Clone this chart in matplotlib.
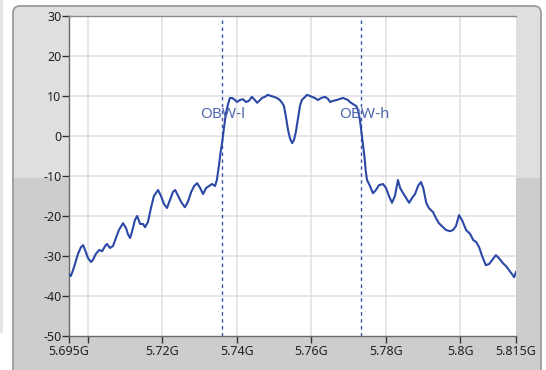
import matplotlib
matplotlib.use("Agg")
import matplotlib.pyplot as plt
from matplotlib.patches import FancyBboxPatch, Rectangle

plt.rcParams["axes.unicode_minus"] = False
plt.rcParams["font.family"] = ["Noto Sans", "DejaVu Sans"]

# ---- data (frequency in GHz, level in dB) ----
freq_ghz = [
    5.6950, 5.6955, 5.6961, 5.6966, 5.6974, 5.6982, 5.6988, 5.6993, 5.7001, 5.7009,
    5.7014, 5.7022, 5.7031, 5.7039, 5.7047, 5.7052, 5.7060, 5.7068, 5.7076, 5.7084,
    5.7095, 5.7103, 5.7108, 5.7114, 5.7119, 5.7127, 5.7133, 5.7141, 5.7149, 5.7154,
    5.7162, 5.7170, 5.7178, 5.7189, 5.7197, 5.7205, 5.7213, 5.7221, 5.7229, 5.7235,
    5.7243, 5.7251, 5.7261, 5.7269, 5.7278, 5.7286, 5.7294, 5.7302, 5.7310, 5.7318,
    5.7326, 5.7334, 5.7342, 5.7347, 5.7353, 5.7357, 5.7361, 5.7366, 5.7371, 5.7377,
    5.7382, 5.7388, 5.7396, 5.7401, 5.7409, 5.7417, 5.7425, 5.7433, 5.7441, 5.7449,
    5.7455, 5.7463, 5.7468, 5.7476, 5.7484, 5.7492, 5.7500, 5.7508, 5.7516, 5.7522,
    5.7527, 5.7532, 5.7538, 5.7543, 5.7549, 5.7554, 5.7559, 5.7565, 5.7570, 5.7575,
    5.7584, 5.7589, 5.7597, 5.7602, 5.7610, 5.7618, 5.7627, 5.7637, 5.7645, 5.7651,
    5.7659, 5.7669, 5.7678, 5.7686, 5.7694, 5.7699, 5.7704, 5.7712, 5.7721, 5.7726,
    5.7731, 5.7735, 5.7739, 5.7743, 5.7747, 5.7750, 5.7758, 5.7766, 5.7774, 5.7782,
    5.7793, 5.7801, 5.7809, 5.7817, 5.7825, 5.7831, 5.7833, 5.7839, 5.7847, 5.7855,
    5.7863, 5.7871, 5.7879, 5.7887, 5.7895, 5.7901, 5.7909, 5.7916, 5.7927, 5.7935,
    5.7943, 5.7951, 5.7962, 5.7973, 5.7981, 5.7989, 5.7997, 5.8005, 5.8016, 5.8027,
    5.8035, 5.8043, 5.8051, 5.8059, 5.8069, 5.8078, 5.8086, 5.8096, 5.8104, 5.8115,
    5.8123, 5.8131, 5.8139, 5.8145, 5.8150,
]
level_db = [
    -34.5, -35.0, -33.5, -32.0, -29.5, -27.8, -27.3, -28.5, -30.5, -31.5,
    -31.0, -29.5, -28.5, -28.8, -27.5, -27.0, -28.0, -27.5, -25.5, -23.5,
    -21.8, -23.0, -24.5, -25.5, -24.0, -21.0, -20.0, -22.0, -22.0, -22.8,
    -21.5, -18.0, -15.0, -13.5, -15.0, -17.0, -18.0, -16.0, -14.0, -13.5,
    -15.0, -16.5, -17.8, -16.5, -14.0, -12.5, -11.8, -13.0, -14.5, -13.0,
    -12.5, -12.0, -12.5, -11.0, -7.0, -4.0, -1.75, 2.0, 5.5, 8.0,
    9.5, 9.5, 9.0, 8.5, 9.0, 9.2, 8.5, 8.8, 9.8, 9.0,
    8.3, 9.0, 9.5, 9.8, 10.3, 10.0, 9.8, 9.5, 9.0, 8.3,
    7.5, 5.0, 1.5, -0.5, -1.8, -1.0, 1.0, 4.5, 7.5, 9.0,
    9.8, 10.3, 10.0, 9.8, 9.5, 9.0, 9.5, 9.8, 9.3, 8.5,
    8.8, 9.0, 9.3, 9.5, 9.2, 9.0, 8.5, 8.0, 7.5, 6.5,
    4.0, 1.0, -1.8, -5.0, -9.0, -11.0, -12.5, -14.3, -13.5, -12.3,
    -12.0, -13.0, -15.0, -16.7, -15.0, -12.0, -11.0, -13.0, -14.3, -15.5,
    -16.7, -15.5, -14.5, -12.5, -11.5, -13.0, -16.7, -18.0, -19.0, -20.5,
    -21.8, -22.5, -23.5, -23.8, -23.5, -22.5, -19.8, -21.0, -23.5, -24.5,
    -26.0, -26.5, -27.8, -30.0, -32.3, -32.0, -31.0, -29.8, -30.5, -31.8,
    -32.5, -33.5, -34.5, -35.3, -34.0,
]
obw_labels = ["OBW-l", "OBW-h"]
obw_freq_ghz = [5.7362, 5.7734]

x_ticks = [5.695, 5.70, 5.72, 5.74, 5.76, 5.78, 5.80, 5.815]
x_tick_labels = ["5.695G", "", "5.72G", "5.74G", "5.76G", "5.78G", "5.8G", "5.815G"]
x_grid = [5.70, 5.72, 5.74, 5.76, 5.78, 5.80]
y_ticks = [-50, -40, -30, -20, -10, 0, 10, 20, 30]

# ---- figure ----
W, H = 546, 370
fig = plt.figure(figsize=(W / 100, H / 100), dpi=100)
fig.patch.set_facecolor("white")

def fx(px):
    return px / W

def fy(py):
    return 1 - py / H

bg = fig.add_axes([0, 0, 1, 1], zorder=-5)
bg.set_xlim(0, W)
bg.set_ylim(H, 0)
bg.axis("off")

bg.add_patch(Rectangle((0, 0), 3, 333, facecolor="#e6e6e6", edgecolor="none"))
bg.add_patch(FancyBboxPatch((13, 6), 528, 380,
                            boxstyle="round,pad=0,rounding_size=7",
                            facecolor="#cdcdcd", edgecolor="#9c9c9c", linewidth=1.3))
bg.add_patch(FancyBboxPatch((14, 7), 526, 171,
                            boxstyle="round,pad=0,rounding_size=6",
                            facecolor="#dfdfdf", edgecolor="none"))
bg.add_patch(Rectangle((14, 160), 526, 18, facecolor="#dfdfdf", edgecolor="none"))

ax = fig.add_axes([fx(69), fy(336), fx(516) - fx(69), fy(16) - fy(336)], zorder=1)
ax.set_facecolor("white")

ax.set_xlim(5.695, 5.815)
ax.set_ylim(-50, 30)

for g in x_grid:
    ax.axvline(g, color="#e2e2e2", linewidth=1.2, zorder=1)
for g in y_ticks[1:-1]:
    ax.axhline(g, color="#e2e2e2", linewidth=1.2, zorder=1)

ax.plot(freq_ghz, level_db, color="#2b48a6", linewidth=1.5, zorder=3)

for f, lab in zip(obw_freq_ghz, obw_labels):
    ax.axvline(f, color="#3a55a8", linewidth=1.0, linestyle=(0, (2.5, 2.5)), zorder=2)
    ax.text(f - 0.0060, 5.4, lab, color="#5068b0", fontsize=11,
            ha="left", va="center", zorder=4)

ax.set_xticks(x_ticks)
ax.set_xticklabels(x_tick_labels)
ax.set_yticks(y_ticks)
ax.tick_params(axis="x", direction="out", length=5, width=1, colors="#333333",
               labelsize=9, pad=1.5)
ax.tick_params(axis="y", direction="out", length=5, width=1, colors="#333333",
               labelsize=9, pad=0.5)
ax.tick_params(axis="x", labelcolor="#222222")
ax.tick_params(axis="y", labelcolor="#222222")

for s in ["left", "bottom"]:
    ax.spines[s].set_color("#6a6a6a")
    ax.spines[s].set_linewidth(1.0)
ax.spines["top"].set_color("#8a8a8a")
ax.spines["top"].set_linewidth(1.0)
ax.spines["right"].set_visible(False)

fig.savefig("out.png", dpi=100)
